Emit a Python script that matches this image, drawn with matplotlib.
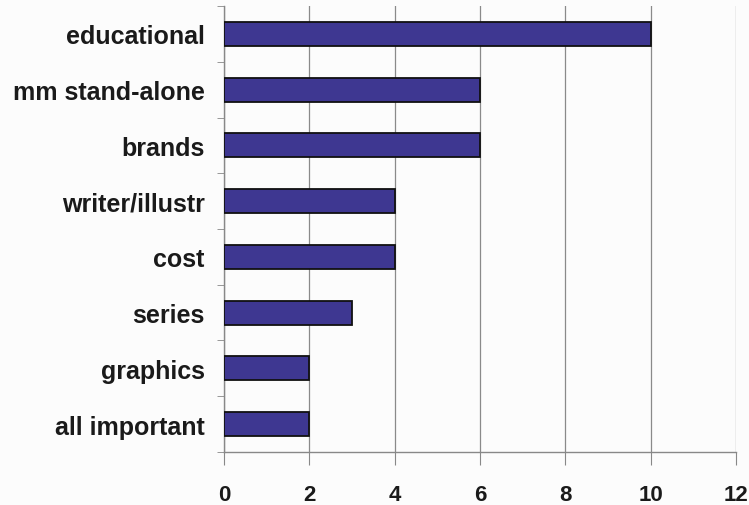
import matplotlib.pyplot as plt
import numpy as np

categories = ["educational", "mm stand-alone", "brands", "writer/illustr",
              "cost", "series", "graphics", "all important"]
values = [10, 6, 6, 4, 4, 3, 2, 2]
x_ticks = [0, 2, 4, 6, 8, 10, 12]

plt.rcParams['font.family'] = ['Liberation Sans', 'DejaVu Sans']

fig = plt.figure(figsize=(7.49, 5.06), dpi=100)
fig.patch.set_facecolor("#fcfcfc")
ax = fig.add_axes([0.299, 0.105, 0.684, 0.881])
ax.set_facecolor("#fcfcfc")

pos = np.arange(len(categories))
ax.barh(pos, values, height=0.43, color="#3e3791", edgecolor="#111111", linewidth=1.3, zorder=3)

ax.set_ylim(len(categories) - 0.5, -0.5)
ax.set_xlim(0, 12)

# category labels sit between the tick marks
ax.set_yticks(pos)
ax.set_yticklabels(categories, fontsize=18, fontweight="bold", color="#1a1a1a")
ax.tick_params(axis="y", which="major", length=0, pad=14)
ax.set_yticks(np.arange(len(categories) + 1) - 0.5, minor=True)
ax.tick_params(axis="y", which="minor", length=5, color="#888888")

ax.set_xticks(x_ticks)
ax.set_xticklabels([str(t) for t in x_ticks], fontsize=16, fontweight="bold", color="#1a1a1a")
ax.tick_params(axis="x", length=9, color="#888888", pad=14)

ax.grid(axis="x", color="#8a8a8a", linewidth=0.9, zorder=0)
for side in ["top", "right"]:
    ax.spines[side].set_visible(False)
for side in ["left", "bottom"]:
    ax.spines[side].set_color("#888888")
    ax.spines[side].set_linewidth(1.0)

fig.savefig("out.png", dpi=100, facecolor=fig.get_facecolor())
